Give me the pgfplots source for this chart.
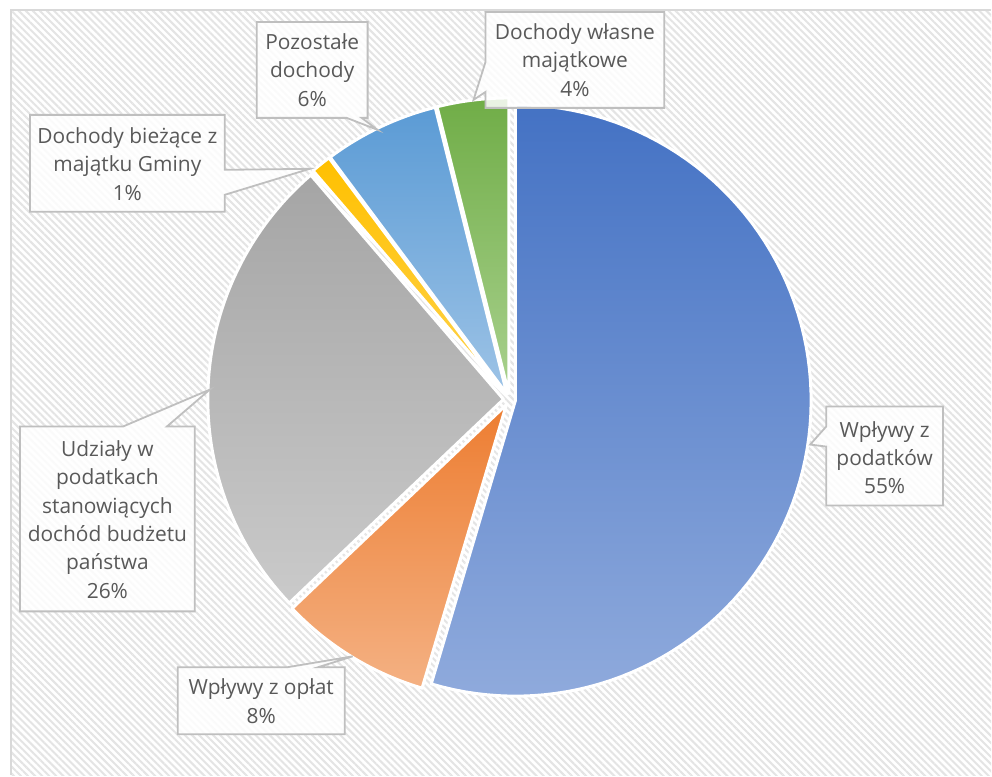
\documentclass[border=0pt]{standalone}
\usepackage{pgfplots}
\pgfplotsset{compat=1.18}
\usepackage{fontspec}
\setmainfont{Open Sans}
\usetikzlibrary{patterns.meta}
\definecolor{blueT}{HTML}{4472C4}\definecolor{blueB}{HTML}{8FAADC}
\definecolor{orT}{HTML}{ED7D31}\definecolor{orB}{HTML}{F4B183}
\definecolor{grT}{HTML}{A5A5A5}\definecolor{grB}{HTML}{CACACA}
\definecolor{yelT}{HTML}{FFC000}\definecolor{yelB}{HTML}{FFD34D}
\definecolor{lbT}{HTML}{5B9BD5}\definecolor{lbB}{HTML}{9DC3E6}
\definecolor{gnT}{HTML}{70AD47}\definecolor{gnB}{HTML}{A9D18E}
\definecolor{hatch}{HTML}{E4E4E4}
\definecolor{framec}{HTML}{D9D9D9}
\definecolor{boxc}{HTML}{BFBFBF}
\definecolor{txt}{HTML}{595959}
\tikzset{
  slice/.style={draw=white,line width=3bp,line join=round},
  cbox/.style={fill=white,fill opacity=0.85,draw=boxc,line width=1.8bp,line join=miter},
  lbl/.style={align=center,text=txt,font=\fontsize{21}{28.5}\selectfont,inner sep=0pt}}
% data (percent)
\def\vA{54.6}% Wplywy z podatkow
\def\vB{8.3}%  Wplywy z oplat
\def\vC{25.8}% Udzialy w podatkach
\def\vD{1.1}%  Dochody biezace z majatku Gminy
\def\vE{6.3}%  Pozostale dochody
\def\vF{3.9}%  Dochody wlasne majatkowe
\def\cx{510}\def\cy{400}\def\R{296}\def\ex{6}
\pgfmathsetmacro\aA{0}
\pgfmathsetmacro\aB{\aA+3.6*\vA}
\pgfmathsetmacro\aC{\aB+3.6*\vB}
\pgfmathsetmacro\aD{\aC+3.6*\vC}
\pgfmathsetmacro\aE{\aD+3.6*\vD}
\pgfmathsetmacro\aF{\aE+3.6*\vE}
\pgfmathsetmacro\aG{\aF+3.6*\vF}
\pgfmathsetmacro\oxA{\cx+\ex*sin((\aA+\aB)/2)}\pgfmathsetmacro\oyA{\cy-\ex*cos((\aA+\aB)/2)}
\pgfmathsetmacro\oxB{\cx+\ex*sin((\aB+\aC)/2)}\pgfmathsetmacro\oyB{\cy-\ex*cos((\aB+\aC)/2)}
\pgfmathsetmacro\oxC{\cx+\ex*sin((\aC+\aD)/2)}\pgfmathsetmacro\oyC{\cy-\ex*cos((\aC+\aD)/2)}
\pgfmathsetmacro\oxD{\cx+\ex*sin((\aD+\aE)/2)}\pgfmathsetmacro\oyD{\cy-\ex*cos((\aD+\aE)/2)}
\pgfmathsetmacro\oxE{\cx+\ex*sin((\aE+\aF)/2)}\pgfmathsetmacro\oyE{\cy-\ex*cos((\aE+\aF)/2)}
\pgfmathsetmacro\oxF{\cx+\ex*sin((\aF+\aG)/2)}\pgfmathsetmacro\oyF{\cy-\ex*cos((\aF+\aG)/2)}
\begin{document}
\begin{tikzpicture}
\begin{axis}[width=992bp,height=776bp,scale only axis,
  xmin=0,xmax=992,ymin=0,ymax=776,y dir=reverse,hide axis,clip=false]
\path[fill=white] (axis cs:0,0) rectangle (axis cs:992,776);
\fill[pattern={Lines[angle=-45,distance=5bp,line width=2bp]},pattern color=hatch] (axis cs:11,10) rectangle (axis cs:992,776);
\draw[framec,line width=2bp] (axis cs:11,776) -- (axis cs:11,10) -- (axis cs:992,10);
% slices
\addplot[slice,samples=90,top color=blueT,bottom color=blueB,domain=\aA:\aB] ({\oxA+\R*sin(x)},{\oyA-\R*cos(x)}) -- (axis cs:\oxA,\oyA) -- cycle;
\addplot[slice,samples=30,top color=orT,bottom color=orB,domain=\aB:\aC] ({\oxB+\R*sin(x)},{\oyB-\R*cos(x)}) -- (axis cs:\oxB,\oyB) -- cycle;
\addplot[slice,samples=60,top color=grT,bottom color=grB,domain=\aC:\aD] ({\oxC+\R*sin(x)},{\oyC-\R*cos(x)}) -- (axis cs:\oxC,\oyC) -- cycle;
\addplot[slice,samples=8,top color=yelT,bottom color=yelB,domain=\aD:\aE] ({\oxD+\R*sin(x)},{\oyD-\R*cos(x)}) -- (axis cs:\oxD,\oyD) -- cycle;
\addplot[slice,samples=25,top color=lbT,bottom color=lbB,domain=\aE:\aF] ({\oxE+\R*sin(x)},{\oyE-\R*cos(x)}) -- (axis cs:\oxE,\oyE) -- cycle;
\addplot[slice,samples=20,top color=gnT,bottom color=gnB,domain=\aF:\aG] ({\oxF+\R*sin(x)},{\oyF-\R*cos(x)}) -- (axis cs:\oxF,\oyF) -- cycle;
% callouts
\draw[cbox] (axis cs:486,12) -- (axis cs:665,12) -- (axis cs:665,108) -- (axis cs:486,108) -- (axis cs:486,92) -- (axis cs:474,100) -- (axis cs:486,62) -- cycle;
\draw[cbox] (axis cs:257,22) -- (axis cs:368,22) -- (axis cs:368,118) -- (axis cs:362,118) -- (axis cs:378,130) -- (axis cs:347,118) -- (axis cs:257,118) -- cycle;
\draw[cbox] (axis cs:30,115) -- (axis cs:225,115) -- (axis cs:225,170) -- (axis cs:310,169) -- (axis cs:225,195) -- (axis cs:225,212) -- (axis cs:30,212) -- cycle;
\draw[cbox] (axis cs:20,427) -- (axis cs:123,427) -- (axis cs:210,390) -- (axis cs:167,427) -- (axis cs:195,427) -- (axis cs:195,612) -- (axis cs:20,612) -- cycle;
\draw[cbox] (axis cs:178,668) -- (axis cs:287,668) -- (axis cs:353,657) -- (axis cs:318,668) -- (axis cs:345,668) -- (axis cs:345,735) -- (axis cs:178,735) -- cycle;
\draw[cbox] (axis cs:827,407) -- (axis cs:944,407) -- (axis cs:944,506) -- (axis cs:827,506) -- (axis cs:827,447) -- (axis cs:811,445) -- (axis cs:827,427) -- cycle;
% labels
\node[lbl] at (axis cs:575.5,60) {Dochody własne\\majątkowe\\4\%};
\node[lbl] at (axis cs:312.5,70) {Pozostałe\\dochody\\6\%};
\node[lbl] at (axis cs:127.5,164) {Dochody bieżące z\\majątku Gminy\\1\%};
\node[lbl] at (axis cs:107.5,520) {Udziały w\\podatkach\\stanowiących\\dochód budżetu\\państwa\\26\%};
\node[lbl] at (axis cs:261.5,702) {Wpływy z opłat\\8\%};
\node[lbl] at (axis cs:885.5,458) {Wpływy z\\podatków\\55\%};
\end{axis}
\end{tikzpicture}
\end{document}
